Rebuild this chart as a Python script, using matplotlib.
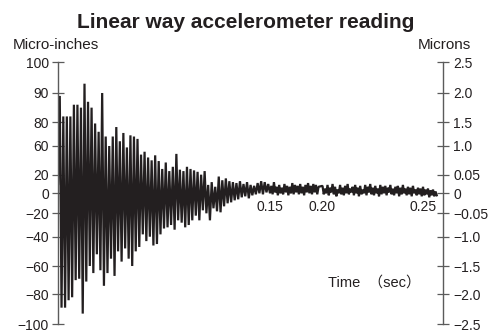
import numpy as np
import matplotlib
matplotlib.use("Agg")
import matplotlib.pyplot as plt

plt.rcParams["font.family"] = ["Liberation Sans", "DejaVu Sans"]

# accelerometer readings (micro-inches)
# decay part: one sample every 1.25 ms from t = 0
decay_step = 0.00125
decay_readings = [
    10,
    89, -89, 82, -89, 82, -84, 82, -82, 86, -70, 86, -69, 85, -93, 93, -71, 87, -60, 85, -65,
    79, -52, 72, -63, 90, -74, 68, -65, 60, -55, 68, -67, 76, -50, 64, -57, 71, -48, 58, -55,
    69, -60, 68, -50, 66, -47, 48, -38, 52, -43, 44, -40, 40, -46, 47, -45, 39, -38, 28, -33,
    37, -32, 25, -30, 31, -34, 49, -26, 27, -28, 25, -32, 31, -30, 28, -26, 26, -22, 24, -26,
    20, -17, 25, -20, 9, -26, 12, -15, 7, -18, 18, -19, 14, -13, 16, -10, 13, -9, 12, -7,
    11, -6, 13, -4, 10, -3, 12, -5, 9, -2, 8, -1, 11, 0, 13, -1, 12, 1,
    10, 0, 8, -1, 12, 1, 7, -2, 9, 0, 6, -1, 10, 1, 8, -2, 7, 0, 11, -1,
    9, 1, 8, -1, 10, 0, 7, -2, 9, 1, 11, 0, 8, -1, 10, 1, 9, -1, 7,
]
# settling part: one sample every 0.625 ms from t = 0.20 s
settle_start = 0.20
settle_step = 0.000625
settle_readings = [
    8, -1, 5, 0, 9, -2, 6, 1, 10, -1, 7, -3, 4, 0, 9, -1, 6, -2, 8, 0,
    10, -1, 5, 1, 7, -2, 9, 0, 6, -3, 8, -1, 4, 0, 9, -2, 7, 1, 10, -1,
    6, -2, 8, 0, 5, -3, 9, -1, 7, 0, 8, -2, 6, 1, 9, -1, 5, -2, 7, 0,
    8, -3, 6, -1, 9, 0, 5, -2, 7, -1, 6, -3, 8, 0, 4, -2, 6, -1, 5, -3,
    7, -2, 4, -1, 5, -4, 3, -2, 4, -3, 2, -2,
]

left_ticks = [-100, -80, -60, -40, -20, 0, 20, 60, 80, 90, 100]
left_labels = ["\u2212100", "\u221280", "\u221260", "\u221240", "\u221220", "0",
               "20", "60", "80", "90", "100"]
right_labels = ["\u22122.5", "\u22122.0", "\u22121.5", "\u22121.0", "\u22120.05", "0",
                "0.05", "1.0", "1.5", "2.0", "2.5"]
time_ticks = [0.15, 0.20, 0.25]
time_labels = ["0.15", "0.20", "0.25"]

# the printed axes are not evenly spaced: piecewise-linear scales (pixel offsets)
_Y_POS = [0, 29.7, 58, 87.3, 110.7, 130.7, 149.3, 178, 201.7, 231, 262]
_X_T = [0, 0.15, 0.20, 0.25, 0.27]
_X_POS = [0, 212, 264.5, 365, 405]

INK = "#231f20"
AXC = "#5b5b5b"


def fy(v):
    return np.interp(v, left_ticks, _Y_POS)


def iy(p):
    return np.interp(p, _Y_POS, left_ticks)


def fx(t):
    return np.interp(t, _X_T, _X_POS)


def ix(p):
    return np.interp(p, _X_POS, _X_T)


times = np.concatenate([
    np.arange(len(decay_readings)) * decay_step,
    settle_start + np.arange(len(settle_readings)) * settle_step,
])
readings = np.array(decay_readings + settle_readings)

fig = plt.figure(figsize=(4.93, 3.31), dpi=100)
ax = fig.add_axes([58 / 493, 1 - 324 / 331, 385 / 493, 262 / 331])
ax.set_xscale("function", functions=(fx, ix))
ax.set_yscale("function", functions=(fy, iy))
ax.set_xlim(0, 0.26)
ax.set_ylim(-100, 100)

ax.plot(times, readings, color=INK, lw=1.6, solid_joinstyle="bevel")

ax.spines["top"].set_visible(False)
ax.spines["right"].set_visible(False)
ax.spines["bottom"].set_position(("data", 0))
ax.spines["bottom"].set_color("none")
ax.spines["left"].set_color(AXC)
ax.spines["left"].set_linewidth(1.0)

ax.set_yticks(left_ticks, labels=left_labels)
ax.tick_params(axis="y", direction="inout", length=8, width=0.9, color=AXC,
               labelsize=10, labelcolor=INK, pad=2.5)
ax.set_xticks(time_ticks, labels=time_labels)
ax.tick_params(axis="x", length=0, pad=4.5, labelsize=10, labelcolor=INK)

tw = ax.twinx()
tw.set_yscale("function", functions=(fy, iy))
tw.set_ylim(-100, 100)
for s in ("top", "bottom", "left"):
    tw.spines[s].set_visible(False)
tw.spines["right"].set_color(AXC)
tw.spines["right"].set_linewidth(1.0)
tw.set_yticks(left_ticks, labels=right_labels)
tw.tick_params(axis="y", direction="inout", length=8, width=0.9, color=AXC,
               labelsize=10, labelcolor=INK, pad=3.5)

fig.text(0.499, 1 - 28 / 331, "Linear way accelerometer reading", ha="center",
         va="baseline", fontsize=15, fontweight="bold", color=INK)
fig.text(13 / 493, 1 - 49 / 331, "Micro-inches", ha="left", va="baseline",
         fontsize=11, color=INK)
fig.text(418 / 493, 1 - 49 / 331, "Microns", ha="left", va="baseline",
         fontsize=11, color=INK)
fig.text(328 / 493, 1 - 287 / 331, "Time  \uff08sec\uff09", ha="left", va="baseline",
         fontsize=10.5, color=INK, family=["Liberation Sans", "Noto Sans CJK JP"])

fig.savefig("out.png", dpi=100)
